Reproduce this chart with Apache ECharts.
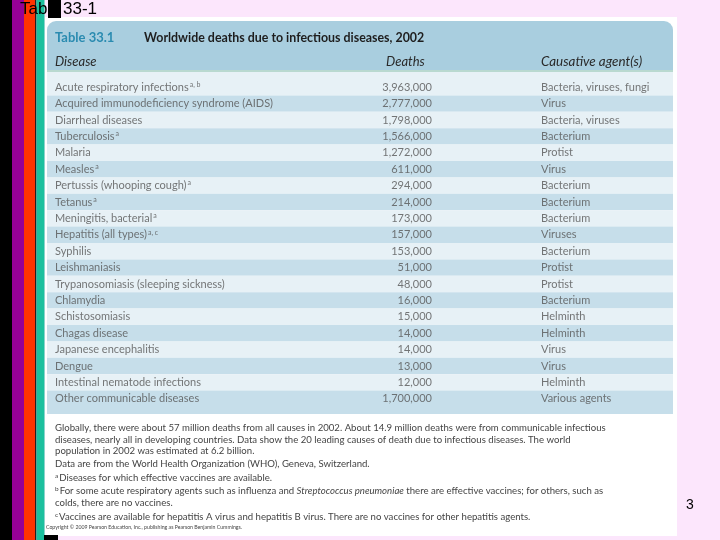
<!DOCTYPE html>
<html>
<head>
<meta charset="utf-8">
<script src="https://cdn.jsdelivr.net/npm/echarts@6/dist/echarts.min.js"></script>
<style>html,body{margin:0;padding:0;background:#FCE6FC;}#c{width:720px;height:540px;}</style>
</head>
<body>
<div id="c"></div>
<script>
const diseases = ['Acute respiratory infections','Acquired immunodeficiency syndrome (AIDS)','Diarrheal diseases','Tuberculosis','Malaria','Measles','Pertussis (whooping cough)','Tetanus','Meningitis, bacterial','Hepatitis (all types)','Syphilis','Leishmaniasis','Trypanosomiasis (sleeping sickness)','Chlamydia','Schistosomiasis','Chagas disease','Japanese encephalitis','Dengue','Intestinal nematode infections','Other communicable diseases'];
const footnoteMarks = ['a, b','','','a','','a','a','a','a','a, c','','','','','','','','','',''];
const deaths = [3963000,2777000,1798000,1566000,1272000,611000,294000,214000,173000,157000,153000,51000,48000,16000,15000,14000,14000,13000,12000,1700000];
const agents = ['Bacteria, viruses, fungi','Virus','Bacteria, viruses','Bacterium','Protist','Virus','Bacterium','Bacterium','Bacterium','Viruses','Bacterium','Protist','Protist','Bacterium','Helminth','Helminth','Virus','Virus','Helminth','Various agents'];
const columnHeaders = ['Disease','Deaths','Causative agent(s)'];
const tableNumber = 'Table 33.1';
const tableTitle = 'Worldwide deaths due to infectious diseases, 2002';
const notes = [
  'Globally, there were about 57 million deaths from all causes in 2002. About 14.9 million deaths were from communicable infectious',
  'diseases, nearly all in developing countries. Data show the 20 leading causes of death due to infectious diseases. The world',
  'population in 2002 was estimated at 6.2 billion.',
  'Data are from the World Health Organization (WHO), Geneva, Switzerland.',
  '{s|a}Diseases for which effective vaccines are available.',
  '{s|b}For some acute respiratory agents such as influenza and {i|Streptococcus pneumoniae} there are effective vaccines; for others, such as',
  'colds, there are no vaccines.',
  '{s|c}Vaccines are available for hepatitis A virus and hepatitis B virus. There are no vaccines for other hepatitis agents.'
];
const noteY = [428,439.5,451,464,478,491,503,517];
const copyright = 'Copyright \u00A9 2009 Pearson Education, Inc., publishing as Pearson Benjamin Cummings.';

const FONT = 'Lato, "Noto Sans", sans-serif';
const GL = 47, GR = 673, GT = 79, GB = 407;
const colDisease = 8, colDeaths = 385, colAgent = 494;
const ROW_LIGHT = '#E7F1F6', ROW_DARK = '#C6DEEA';

const chart = echarts.init(document.getElementById('c'), null, {renderer:'canvas'});

function txt(x, y, text, o) {
  return {type:'text', silent:true, style: Object.assign({x:x, y:y, text:text, fontFamily:FONT, fontSize:11, fill:'#555', verticalAlign:'middle', align:'left'}, o||{})};
}

const graphics = [
  {type:'rect', silent:true, shape:{x:0,y:0,width:12,height:540}, style:{fill:'#000'}},
  {type:'rect', silent:true, shape:{x:12,y:0,width:12,height:540}, style:{fill:'#960096'}},
  {type:'rect', silent:true, shape:{x:24,y:0,width:11,height:540}, style:{fill:'#FF3300'}},
  {type:'rect', silent:true, shape:{x:35,y:0,width:1.5,height:540}, style:{fill:'#222'}},
  {type:'rect', silent:true, shape:{x:36.5,y:0,width:8,height:540}, style:{fill:'#1CC09E'}},
  {type:'rect', silent:true, shape:{x:48,y:0,width:13,height:18}, style:{fill:'#000'}},
  {type:'rect', silent:true, shape:{x:44,y:535,width:14,height:5}, style:{fill:'#000'}},
  txt(20, 9, 'Tab', {fontFamily:'"Liberation Sans", Arial, sans-serif', fontSize:17, fill:'#000'}),
  txt(63, 9, '33-1', {fontFamily:'"Liberation Sans", Arial, sans-serif', fontSize:17, fill:'#000'}),
  txt(690, 505, '3', {fontFamily:'"Liberation Sans", Arial, sans-serif', fontSize:14, fill:'#000', align:'center'}),
  {type:'rect', silent:true, z:-5, shape:{x:45,y:17,width:632,height:519}, style:{fill:'#FFFFFF'}},
  {type:'rect', silent:true, z:-4, shape:{x:GL,y:21,width:GR-GL,height:49,r:[9,9,0,0]}, style:{fill:'#A9CEDF'}},
  {type:'rect', silent:true, z:-4, shape:{x:GL,y:70,width:GR-GL,height:2}, style:{fill:'#B9D9D0'}},
  {type:'rect', silent:true, z:-4, shape:{x:GL,y:72,width:GR-GL,height:GT-72}, style:{fill:ROW_LIGHT}},
  {type:'rect', silent:true, z:-4, shape:{x:GL,y:GB,width:GR-GL,height:7}, style:{fill:ROW_DARK}},
  txt(55, 38, tableNumber, {fontSize:13, fontWeight:'bold', fill:'#2A8BB0'}),
  txt(144, 38, tableTitle, {fontSize:12.4, fontWeight:'bold', fill:'#1e1e1e'}),
  txt(55, 62, columnHeaders[0], {fontStyle:'italic', fontSize:13, fill:'#2a2a2a'}),
  txt(386, 62, columnHeaders[1], {fontStyle:'italic', fontSize:13, fill:'#2a2a2a'}),
  txt(541, 62, columnHeaders[2], {fontStyle:'italic', fontSize:13.4, fill:'#2a2a2a'}),
  txt(46, 527, copyright, {fontSize:5.2, fill:'#444'})
];
notes.forEach((t, k) => {
  graphics.push(txt(55, noteY[k], t, {fontSize:9.6, fill:'#444', rich:{
    s:{fontFamily:FONT, fontSize:6.5, fill:'#444', verticalAlign:'top', padding:[0,1,4,0]},
    i:{fontFamily:FONT, fontSize:9.6, fill:'#444', fontStyle:'italic'}}}));
});

const labelBase = {show:true, position:'inside', fontFamily:FONT, fontSize:11, color:'#555', verticalAlign:'middle'};

chart.setOption({
  animation:false,
  backgroundColor:'#FCE6FC',
  graphic: graphics,
  grid:{left:GL, right:720-GR, top:GT, bottom:540-GB},
  xAxis:{type:'value', min:0, max:GR-GL, show:false},
  yAxis:{type:'category', data:diseases, inverse:true,
    axisLine:{show:false}, axisTick:{show:false}, axisLabel:{show:false}, splitLine:{show:false}},
  series:[
    {type:'bar', silent:true, barWidth:'100%', z:1,
     data: diseases.map((d,i)=>({value: GR-GL, itemStyle:{color: i % 2 ? ROW_DARK : ROW_LIGHT}}))},
    {type:'scatter', silent:true, symbolSize:1, z:3, itemStyle:{color:'rgba(0,0,0,0)'},
     data: diseases.map((d,i)=>[colDisease, i]),
     label: Object.assign({}, labelBase, {align:'left',
       formatter: p => diseases[p.dataIndex] + (footnoteMarks[p.dataIndex] ? '{s|' + footnoteMarks[p.dataIndex] + '}' : ''),
       rich:{s:{fontFamily:FONT, fontSize:7, color:'#555', verticalAlign:'top', padding:[0,0,5,1]}}})},
    {type:'scatter', silent:true, symbolSize:1, z:3, itemStyle:{color:'rgba(0,0,0,0)'},
     data: deaths.map((v,i)=>[colDeaths, i]),
     label: Object.assign({}, labelBase, {align:'right',
       formatter: p => deaths[p.dataIndex].toLocaleString('en-US')})},
    {type:'scatter', silent:true, symbolSize:1, z:3, itemStyle:{color:'rgba(0,0,0,0)'},
     data: agents.map((a,i)=>[colAgent, i]),
     label: Object.assign({}, labelBase, {align:'left',
       formatter: p => agents[p.dataIndex]})}
  ]
});
</script>
</body>
</html>
